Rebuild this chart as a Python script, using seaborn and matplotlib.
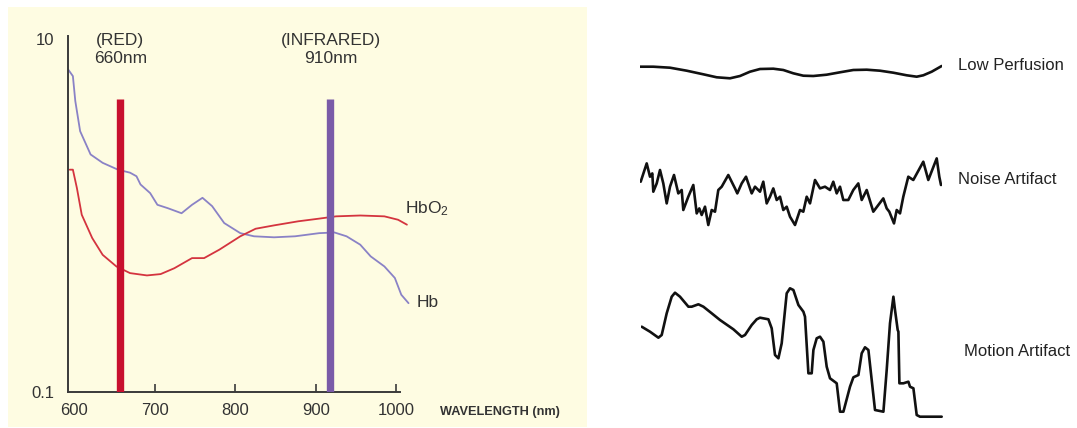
import matplotlib
matplotlib.use("Agg")
import matplotlib.pyplot as plt
from matplotlib.patches import Rectangle
from matplotlib.ticker import FixedLocator, FixedFormatter, NullLocator
import seaborn as sns
import pandas as pd

# ---------------- data ----------------
# absorption spectra (log scale), wavelength in nm
hb_wavelength = [592, 598, 601, 607, 620, 635, 654, 669, 677, 682, 694, 703, 716, 733,
                 746, 759, 771, 786, 806, 823, 848, 874, 904, 923, 938, 955, 968, 985,
                 998, 1006, 1015]
hb_absorption = [6.75, 6.18, 4.46, 3.01, 2.22, 1.99, 1.82, 1.75, 1.67, 1.50, 1.34, 1.15, 1.10, 1.03,
                 1.15, 1.26, 1.13, 0.906, 0.794, 0.762, 0.752, 0.762, 0.794, 0.801, 0.762, 0.683, 0.586, 0.514,
                 0.442, 0.355, 0.318]
hbo2_wavelength = [594, 598, 603, 609, 622, 635, 652, 669, 690, 707, 724, 746, 761, 780,
                   806, 825, 848, 878, 904, 925, 955, 985, 1002, 1013]
hbo2_absorption = [1.82, 1.82, 1.43, 1.01, 0.745, 0.598, 0.514, 0.471, 0.457, 0.465, 0.502, 0.573, 0.573, 0.64,
                   0.762, 0.841, 0.879, 0.927, 0.96, 0.989, 1.0, 0.989, 0.946, 0.887]
bar_wavelength = [657, 918]
bar_height = [4.6, 4.6]
bar_labels = ["(RED)\n660nm", "(INFRARED)\n910nm"]
x_ticks = [600, 700, 800, 900, 1000]
x_ticklabels = ["600", "700", "800", "900", "1000"]
y_ticks = [0.1, 10]
y_ticklabels = ["0.1", "10"]

# waveforms (time in arbitrary units, amplitude in arbitrary units)
low_t = [0, 13.3, 30, 46.7, 63.3, 76.7, 90, 100, 110, 120, 133.3, 143.3, 153.3, 163.3, 173.3,
         186.7, 200, 213.3, 226.7, 240, 253.3, 266.7, 276.7, 283.3, 291.7, 301.7]
low_amp = [13.3, 13.3, 12.3, 9.3, 5.7, 2.7, 1.7, 4, 8.3, 11, 11.3, 10, 6.7, 4.3, 4,
           5.3, 7.7, 10, 10.3, 9.3, 7.3, 4.7, 3.3, 4.7, 8.3, 14]
noise_t = [0.7, 6.7, 10, 12.3, 13.3, 16.7, 20, 23.3, 26.7, 30, 34, 38.3, 41.7, 43.3, 48.3, 53.3,
           56.7, 59.3, 61.7, 65, 68.3, 71.7, 75, 78.3, 81.7, 88.3, 95, 97.3, 101.7, 106, 111.7,
           115, 120, 123.3, 126.7, 130, 133.3, 136.7, 140, 143.3, 146.7, 150, 155, 160, 163.3,
           166.7, 170, 175, 180, 185, 190, 193.3, 196.7, 200, 203.3, 208.3, 213.3, 218.3, 221.7,
           226.7, 233.3, 243.3, 246.7, 249.3, 254, 256.7, 260, 263.3, 268.3, 273.3, 283.3, 288.3,
           296.7, 299.3, 301]
noise_amp = [45, 63.3, 50, 53.3, 35, 43.3, 56.7, 43.3, 23.3, 40, 51.7, 33.3, 36.7, 16.7, 30, 41.7,
             13.3, 18.3, 11.7, 20, 1.7, 16.7, 15, 36.7, 40, 51.7, 38.3, 33.3, 43.3, 50, 33.3,
             40, 35, 45, 23.3, 30, 38.3, 26.7, 30, 16.7, 20, 10, 1.7, 16.7, 15,
             30, 23.3, 46.7, 38.3, 40, 36.7, 45, 33.3, 40, 26.7, 26.7, 36.7, 43.3, 26.7,
             36.7, 15, 28.3, 18.3, 15, 3.3, 16.7, 13.3, 30, 50, 46.7, 65, 46.7,
             68.3, 50, 41.7]
motion_t = [1, 9.3, 17.7, 21, 26, 31, 34.3, 39.3, 47.7, 51, 57.7, 62.7, 71, 79.3, 92.7, 101,
            104.3, 111, 116, 119.3, 127.7, 131, 134.3, 137.7, 141, 146, 149.3, 152.7, 157.7,
            162.7, 164.3, 167.7, 171, 172.7, 176, 179.3, 182.7, 186, 189.3, 196, 199.3, 202.7,
            209.3, 212.7, 217.7, 221, 224.3, 227.7, 231, 234.3, 242.7, 246, 249.3, 252.7, 254.3,
            257, 257.7, 258.7, 262.7, 267.7, 269.3, 272.7, 276, 279.3, 301]
motion_amp = [93.3, 88.3, 82.3, 85, 106.7, 123.3, 127.3, 123.3, 113.3, 113.3, 115.7, 113.3, 106.7,
              100, 90.7, 83.3, 85, 95, 100.7, 102.3, 100.7, 91.7, 65, 61.7, 76.7, 126.7, 131.7,
              130, 115, 108.3, 103.3, 46.7, 46.7, 70, 81.7, 83.3, 78.3, 53.3, 41.7, 36.7, 8.3, 8.3,
              33.3, 42.7, 45, 66.7, 72.7, 70, 40, 10, 8.3, 50, 96.7, 123.3, 110,
              90, 88.3, 36.7, 36.7, 38.3, 33.3, 31.7, 5, 3.3, 3.3]
wave_labels = ["Low Perfusion", "Noise Artifact", "Motion Artifact"]

# ---------------- style ----------------
sns.set_style("white")
plt.rcParams["font.family"] = ["Liberation Sans", "DejaVu Sans"]
plt.rcParams["mathtext.fontset"] = "custom"
plt.rcParams["mathtext.rm"] = "Liberation Sans"
plt.rcParams["mathtext.default"] = "regular"

W, H = 1077, 428
fig = plt.figure(figsize=(W / 100, H / 100), dpi=100, facecolor="white")

def frac(x0, y0, x1, y1):
    """pixel box (top-left origin) -> figure fraction rect"""
    return [x0 / W, 1 - y1 / H, (x1 - x0) / W, (y1 - y0) / H]

cream = "#FEFCE2"
fig.patches.append(Rectangle((8 / W, 1 - 427 / H), (587 - 8) / W, (427 - 7) / H,
                             transform=fig.transFigure, facecolor=cream,
                             edgecolor="none", zorder=-10))

# ---------------- left spectrum panel ----------------
ax = fig.add_axes(frac(68.3, 36, 420.6, 391.7))
ax.set_zorder(5)
ax.set_facecolor("none")
ax.patch.set_alpha(0)
ax.set_yscale("log")
ax.set_xlim(592.3, 1030)
ax.set_ylim(0.1, 10.44)

red_bar = "#C8102E"
ir_bar = "#7A5BA8"
ax.vlines(bar_wavelength, 0.1, bar_height, colors=[red_bar, ir_bar], lw=5.3, zorder=3)

hb_df = pd.DataFrame({"wavelength": hb_wavelength, "absorption": hb_absorption})
hbo2_df = pd.DataFrame({"wavelength": hbo2_wavelength, "absorption": hbo2_absorption})
sns.lineplot(data=hb_df, x="wavelength", y="absorption", sort=False, ax=ax,
             color="#8A82C6", lw=1.3, zorder=2)
sns.lineplot(data=hbo2_df, x="wavelength", y="absorption", sort=False, ax=ax,
             color="#D4343F", lw=1.3, zorder=2)

for s in ["top", "right"]:
    ax.spines[s].set_visible(False)
for s in ["left", "bottom"]:
    ax.spines[s].set_color("#3a3a3a")
    ax.spines[s].set_linewidth(1.4)
ax.spines["bottom"].set_bounds(592.3, 1004.3)

ax.xaxis.set_major_locator(FixedLocator(x_ticks))
ax.xaxis.set_major_formatter(FixedFormatter(x_ticklabels))
ax.xaxis.set_minor_locator(NullLocator())
ax.yaxis.set_major_locator(FixedLocator(y_ticks))
ax.yaxis.set_major_formatter(FixedFormatter(y_ticklabels))
ax.yaxis.set_minor_locator(NullLocator())
ax.tick_params(axis="x", direction="in", length=6, width=1.2, color="#3a3a3a",
               pad=8, labelsize=12, labelcolor="#333333", bottom=True)
ax.tick_params(axis="y", length=0, pad=10, labelsize=12, labelcolor="#333333")
ax.xaxis.get_major_ticks()[0].tick1line.set_visible(False)
ax.set_xlabel("")
ax.set_ylabel("")
ax.grid(False)

for xw, lab in zip(bar_wavelength, bar_labels):
    ax.text(xw, 8.7, lab, ha="center", va="center", fontsize=12.5,
            color="#333333", linespacing=1.25)

ax.text(1010, 1.10, "HbO$_2$", ha="left", va="center", fontsize=12.5, color="#333333")
ax.text(1025, 0.322, "Hb", ha="left", va="center", fontsize=12.5, color="#333333")
fig.text(440 / W, 1 - 412 / H, "WAVELENGTH (nm)", ha="left", va="center",
         fontsize=9.2, fontweight="bold", color="#333333")

# ---------------- right waveform panels ----------------
wave_specs = [
    (low_t, low_amp, (640, 50, 942, 90), (-10, 30), (958, 65)),
    (noise_t, noise_amp, (640, 145, 942, 235), (-8.3, 81.7), (958, 180)),
    (motion_t, motion_amp, (640.7, 275, 942.7, 425), (-5, 145), (964, 352)),
]
for (t, a, box, ylim, lab_pos), lab in zip(wave_specs, wave_labels):
    wax = fig.add_axes(frac(*box))
    df = pd.DataFrame({"t": t, "amp": a})
    sns.lineplot(data=df, x="t", y="amp", sort=False, ax=wax, color="#111111",
                 lw=1.9, solid_joinstyle="round", solid_capstyle="round")
    wax.set_xlim(0, box[2] - box[0])
    wax.set_ylim(*ylim)
    wax.axis("off")
    fig.text(lab_pos[0] / W, 1 - lab_pos[1] / H, lab, ha="left", va="center",
             fontsize=12, color="#222222")

fig.savefig("out.png", dpi=100, facecolor="white")
